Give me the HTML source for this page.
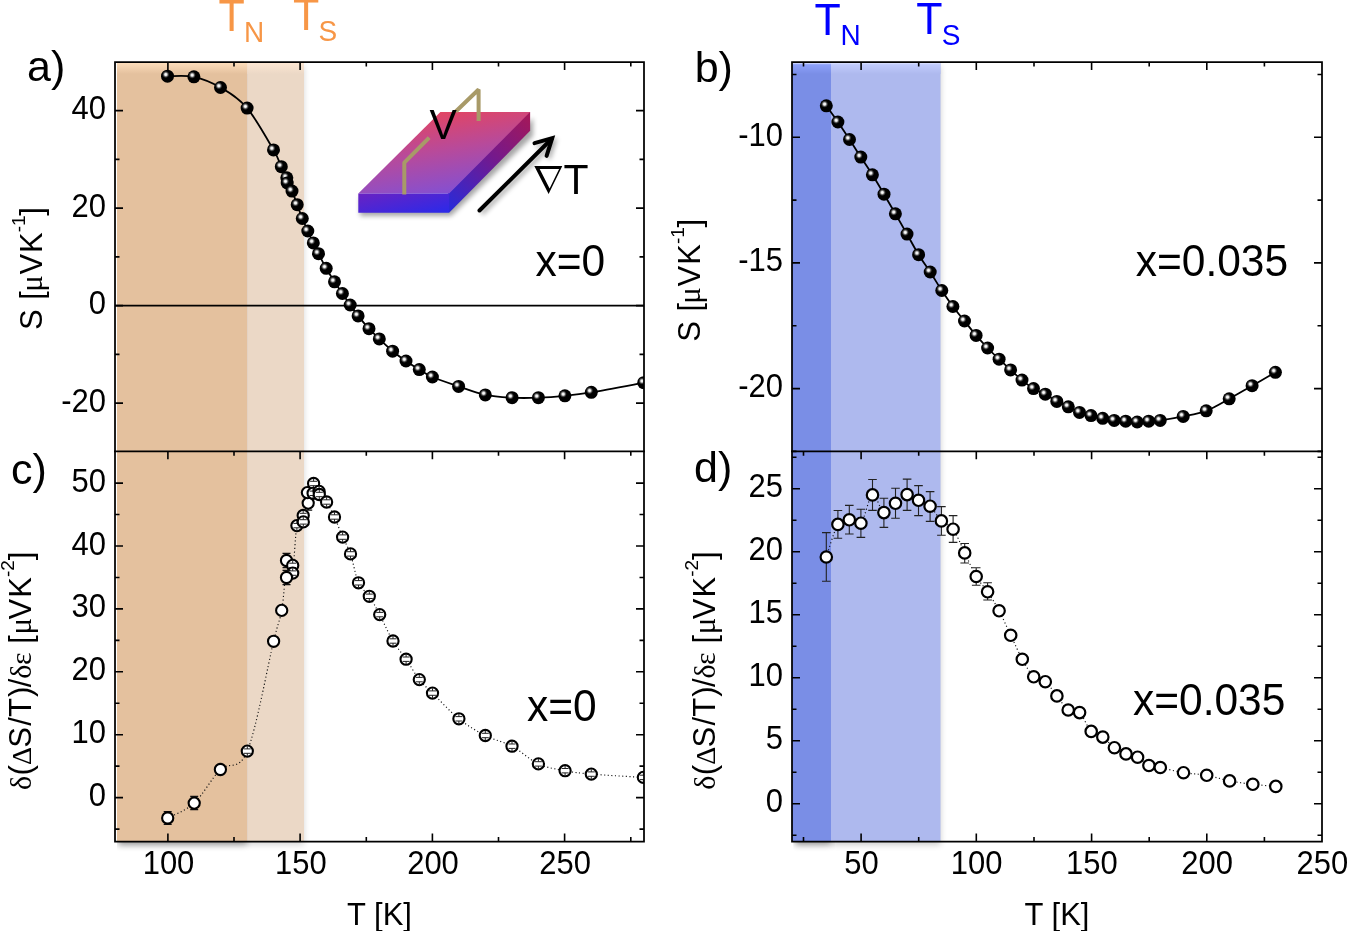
<!DOCTYPE html><html><head><meta charset="utf-8"><style>html,body{margin:0;padding:0;background:#fff;}body{width:1347px;height:931px;overflow:hidden;}svg{display:block;will-change:transform;font-family:"Liberation Sans",sans-serif;}</style></head><body>
<svg width="1347" height="931" viewBox="0 0 1347 931">
<defs>
<radialGradient id="hl" cx="0.5" cy="0.5" r="0.5"><stop offset="0" stop-color="#fff" stop-opacity="1"/><stop offset="0.3" stop-color="#fff" stop-opacity="0.92"/><stop offset="0.7" stop-color="#fff" stop-opacity="0.25"/><stop offset="1" stop-color="#fff" stop-opacity="0"/></radialGradient>
<linearGradient id="tOd" x1="0" y1="0" x2="0" y2="1"><stop offset="0" stop-color="#fcdcba"/><stop offset="1" stop-color="#e4c19e"/></linearGradient>
<linearGradient id="tOl" x1="0" y1="0" x2="0" y2="1"><stop offset="0" stop-color="#fce6d2"/><stop offset="1" stop-color="#ebd8c6"/></linearGradient>
<linearGradient id="tBd" x1="0" y1="0" x2="0" y2="1"><stop offset="0" stop-color="#90a4fe"/><stop offset="1" stop-color="#7a8ee6"/></linearGradient>
<linearGradient id="tBl" x1="0" y1="0" x2="0" y2="1"><stop offset="0" stop-color="#c4cefe"/><stop offset="1" stop-color="#aeb9ee"/></linearGradient>
<filter id="sh" x="-10%" y="-10%" width="120%" height="120%"><feGaussianBlur stdDeviation="3"/></filter>
<linearGradient id="topO" x1="0" y1="0" x2="0" y2="1"><stop offset="0" stop-color="#fff" stop-opacity="0.45"/><stop offset="1" stop-color="#fff" stop-opacity="0"/></linearGradient>
<linearGradient id="topB" x1="0" y1="0" x2="0" y2="1"><stop offset="0" stop-color="#fff" stop-opacity="0.35"/><stop offset="1" stop-color="#fff" stop-opacity="0"/></linearGradient>
<linearGradient id="slabTop" gradientUnits="userSpaceOnUse" x1="435" y1="105" x2="450" y2="195"><stop offset="0" stop-color="#ea4458"/><stop offset="0.5" stop-color="#b84a9a"/><stop offset="1" stop-color="#8250d4"/></linearGradient>
<linearGradient id="slabFront" x1="0" y1="0" x2="1" y2="1"><stop offset="0" stop-color="#6a22c2"/><stop offset="1" stop-color="#2a2aea"/></linearGradient>
<linearGradient id="slabSide" gradientUnits="userSpaceOnUse" x1="528" y1="116" x2="452" y2="208"><stop offset="0" stop-color="#a3185a"/><stop offset="0.45" stop-color="#74198c"/><stop offset="1" stop-color="#2c2ad6"/></linearGradient>
<filter id="blur3" x="-20%" y="-20%" width="140%" height="140%"><feGaussianBlur stdDeviation="2.5"/></filter>
<clipPath id="shO"><rect x="117" y="63" width="600" height="868"/></clipPath><clipPath id="shB"><rect x="793.2" y="63" width="554" height="868"/></clipPath>
<clipPath id="clipA"><rect x="115" y="62" width="529" height="390"/></clipPath>
<clipPath id="clipC"><rect x="115" y="452" width="529" height="389"/></clipPath>
<clipPath id="clipB"><rect x="792" y="62" width="530" height="390"/></clipPath>
<clipPath id="clipD"><rect x="792" y="452" width="530" height="389"/></clipPath>
</defs>
<g clip-path="url(#shO)"><rect x="118" y="66" width="129.2" height="779" fill="#000" opacity="0.42" filter="url(#sh)"/>
<rect x="247.2" y="66" width="56.8" height="779" fill="#000" opacity="0.16" filter="url(#sh)"/></g>
<g clip-path="url(#shB)"><rect x="795" y="66" width="36" height="779" fill="#000" opacity="0.42" filter="url(#sh)"/>
<rect x="831" y="66" width="109.5" height="779" fill="#000" opacity="0.2" filter="url(#sh)"/></g>
<rect x="117" y="62" width="130.2" height="779" fill="#e4c19e"/>
<rect x="247.2" y="62" width="56.8" height="779" fill="#ebd8c6"/>
<rect x="117" y="63" width="130.2" height="11" fill="url(#tOd)"/>
<rect x="247.2" y="63" width="56.8" height="11" fill="url(#tOl)"/>
<rect x="792" y="62" width="39" height="780" fill="#7a8ee6"/>
<rect x="831" y="62" width="109.5" height="780" fill="#aeb9ee"/>
<rect x="792" y="63" width="39" height="11" fill="url(#tBd)"/>
<rect x="831" y="63" width="109.5" height="11" fill="url(#tBl)"/>
<rect x="792" y="63" width="148.5" height="1.2" fill="#dde3fe" opacity="0.7"/>
<line x1="115" y1="305.6" x2="644" y2="305.6" stroke="#000" stroke-width="1.7"/>
<g>
<polygon points="360,197 451,197 533,118 533,136 451,216 360,216" fill="#000" opacity="0.35" filter="url(#blur3)"/>
<polygon points="447.9,193.5 528.9,112.1 530.1,112.1 530.1,130.8 449.1,212.8" fill="url(#slabSide)"/>
<polygon points="440.4,112.1 530.1,112.1 449.1,193.5 358.3,193.5" fill="url(#slabTop)"/>
<polygon points="358.3,193.5 449.1,193.5 449.1,212.8 358.3,212.8" fill="url(#slabFront)"/>
<polyline points="404.3,194.5 404.3,162.6 429.2,137.6" fill="none" stroke="#a89a68" stroke-width="4" stroke-linejoin="bevel"/>
<polyline points="455.8,111.5 478.6,89.5 478.6,121.1" fill="none" stroke="#a89a68" stroke-width="4" stroke-linejoin="bevel"/>
<g opacity="0.35" filter="url(#blur3)" transform="translate(2,3)"><line x1="479.5" y1="210.5" x2="551.5" y2="139" stroke="#000" stroke-width="4"/><polyline points="534.5,143.2 552.2,138.2 546.6,155.9" fill="none" stroke="#000" stroke-width="4"/></g>
<line x1="479.5" y1="210.5" x2="551.5" y2="139" stroke="#000" stroke-width="4" stroke-linecap="round"/>
<polyline points="534.5,143.2 552.2,138.2 546.6,155.9" fill="none" stroke="#000" stroke-width="4" stroke-linecap="round" stroke-linejoin="miter"/>
<path d="M534.3,166.1L562.3,166.1L548.6,194.1ZM539.7,169L549.6,188.4L559.1,169Z" fill="#000" fill-rule="evenodd"/>
<text transform="translate(429.6,138.6) scale(1,1.035)" font-size="41">V</text>
<text transform="translate(563.4,193.8) scale(1,1.035)" font-size="41">T</text>
</g>
<g clip-path="url(#clipA)"><path d="M167.5,76.2 C171.9,76.3 185.1,74.9 193.9,76.8 C202.7,78.7 211.6,82.3 220.5,87.5 C229.4,92.7 238.3,97.7 247.1,108.1 C255.9,118.5 267.8,140.1 273.5,149.9 C279.2,159.7 279.1,162 281.3,166.7 C283.5,171.3 285.8,175.1 286.8,177.8 C287.8,180.5 286.3,180.8 287.2,183 C288.1,185.2 290.3,187.5 292,191.1 C293.7,194.7 295.5,200.1 297.2,204.7 C298.9,209.3 300.5,214.1 302.3,218.5 C304.1,222.9 306,226.9 307.8,231 C309.6,235.1 311.5,239.1 313.3,242.9 C315.1,246.7 316.4,249.5 318.5,253.7 C320.6,257.9 323.5,263.6 326.2,268.3 C328.9,273 331.8,277.6 334.5,281.8 C337.2,286 339.8,289.6 342.4,293.5 C345,297.4 347.6,301.3 350.2,305 C352.8,308.7 355,311.9 358.1,315.9 C361.2,319.8 365.5,324.9 369,328.7 C372.5,332.5 375.4,335.1 379.3,338.9 C383.2,342.6 388.2,347.5 392.6,351.2 C397.1,354.9 401.6,357.9 406,361 C410.4,364.1 414.9,366.9 419.3,369.6 C423.7,372.3 425.8,374.2 432.4,377 C438.9,379.8 449.8,383.4 458.6,386.4 C467.4,389.4 476.4,393 485.3,394.9 C494.2,396.8 503.2,397.2 512.1,397.7 C521,398.2 529.6,398 538.4,397.7 C547.2,397.4 556.1,396.7 564.9,395.8 C573.7,394.9 578.2,394.5 591.3,392.3 C604.4,390.1 635,384.3 643.7,382.7" fill="none" stroke="#000" stroke-width="1.8"/></g>
<g clip-path="url(#clipB)"><path d="M826.3,105.8 C828.2,108.5 834,116.4 837.9,122 C841.8,127.6 845.7,133.7 849.5,139.5 C853.3,145.3 857,151.2 860.8,157.1 C864.6,163 868.5,168.6 872.4,174.8 C876.3,181 880.2,187.7 884,194.2 C887.8,200.7 891.6,207.2 895.4,213.8 C899.2,220.5 903.1,227.3 907,234.1 C910.9,240.9 914.7,248.4 918.6,254.7 C922.5,261 926.3,266 930.2,272 C934.1,278 938,284.8 941.8,290.5 C945.6,296.2 949.1,301.4 952.9,306.5 C956.7,311.6 960.6,316.2 964.5,321 C968.4,325.8 972.2,330.9 976.1,335.4 C980,339.9 983.8,344 987.6,348 C991.4,352 995.3,355.6 999.1,359.2 C1002.9,362.8 1006.8,366.4 1010.6,369.9 C1014.4,373.4 1018.2,377 1022,380.1 C1025.8,383.2 1029.6,386.2 1033.5,388.6 C1037.4,391 1041.4,392.1 1045.3,394.2 C1049.2,396.3 1053,399.3 1056.8,401.4 C1060.6,403.5 1064.5,405 1068.3,406.8 C1072.1,408.6 1075.7,410.9 1079.5,412.4 C1083.3,413.9 1087.1,414.6 1091,415.6 C1094.9,416.6 1098.8,417.5 1102.7,418.3 C1106.6,419.1 1110.4,419.9 1114.2,420.4 C1118,420.9 1121.9,420.9 1125.7,421.2 C1129.5,421.5 1133.4,422 1137.2,422 C1141,422 1144.9,421.5 1148.7,421.2 C1152.5,420.9 1154.5,421.2 1160.2,420.4 C1166,419.6 1175.5,418 1183.2,416.4 C1190.9,414.8 1198.5,413.7 1206.2,410.8 C1213.9,407.9 1221.6,403 1229.2,398.8 C1236.8,394.6 1244.4,390.1 1252.1,385.7 C1259.8,381.3 1271.5,374.5 1275.4,372.3" fill="none" stroke="#000" stroke-width="1.8"/></g>
<g clip-path="url(#clipC)"><path d="M167.7,818 C172.1,815.5 185.4,811.2 194.2,803.1 C203,795 211.6,778.2 220.4,769.5 C229.2,760.8 238.4,772.5 247.3,751.1 C256.2,729.7 267.9,664.8 273.6,641.3 C279.3,617.8 279.6,622.3 281.7,610.4 C283.8,598.5 284.7,576.9 286.5,570 C288.3,563.1 290.9,576.4 292.7,569 C294.4,561.6 295.2,534.1 297,525.6 C298.8,517.1 301.4,522.6 303.2,518 C305,513.4 306.3,503.2 308,498 C309.7,492.8 311.8,488 313.6,487 C315.5,486 316.9,489.5 319.1,492 C321.3,494.5 324,497.8 326.6,502 C329.2,506.2 331.8,511.1 334.5,517 C337.2,522.9 339.9,531 342.6,537.1 C345.3,543.2 347.9,546.3 350.5,553.9 C353.1,561.5 355.4,575.7 358.5,582.8 C361.6,589.9 365.8,591 369.3,596.3 C372.8,601.6 375.8,607.1 379.7,614.6 C383.6,622.1 388.6,633.6 393,641 C397.4,648.4 401.7,652.8 406.1,659.2 C410.5,665.6 414.9,674 419.3,679.6 C423.7,685.2 425.9,686.6 432.5,693.1 C439.1,699.6 450.1,711.7 458.9,718.8 C467.7,725.9 476.4,730.9 485.3,735.5 C494.2,740.1 503.1,741.5 512,746.2 C520.9,750.9 529.5,759.8 538.4,763.9 C547.2,768 556.3,769 565.1,770.7 C573.9,772.4 578.2,773 591.3,774.1 C604.3,775.2 634.7,776.9 643.4,777.4" fill="none" stroke="#111" stroke-width="1.15" stroke-dasharray="1.1 2.5"/></g>
<g clip-path="url(#clipD)"><path d="M826.3,557 C828.2,551.6 834.1,530.6 837.9,524.4 C841.7,518.2 845.5,520 849.3,519.8 C853.1,519.6 857,527.4 860.9,523.2 C864.8,519.1 868.7,496.7 872.5,494.9 C876.3,493.1 880.1,511.2 883.9,512.6 C887.7,514 891.6,506.3 895.5,503.3 C899.4,500.3 903.3,495.1 907.1,494.6 C910.9,494.1 914.7,498.4 918.5,500.3 C922.3,502.2 926.3,502.8 930.1,506.2 C933.9,509.6 937.6,517.1 941.4,520.9 C945.2,524.7 949.2,523.9 953.1,529.2 C957,534.5 960.9,545 964.7,552.9 C968.6,560.8 972.4,570 976.2,576.5 C980,583 983.8,586.1 987.6,591.8 C991.4,597.5 995.2,603.5 999.1,610.8 C1003,618 1006.8,627.2 1010.7,635.3 C1014.6,643.4 1018.5,652.4 1022.3,659.3 C1026.1,666.2 1029.9,673.1 1033.7,676.8 C1037.5,680.5 1041.4,678.5 1045.3,681.7 C1049.2,684.9 1053.1,691.2 1056.9,695.9 C1060.7,700.6 1064.4,707.2 1068.2,710 C1072,712.8 1075.8,709 1079.6,712.6 C1083.4,716.2 1087.3,727.3 1091.2,731.4 C1095.1,735.5 1098.9,734.4 1102.8,737.1 C1106.7,739.8 1110.5,744.9 1114.4,747.7 C1118.3,750.5 1122.1,752.3 1126,753.9 C1129.9,755.5 1133.8,755.3 1137.6,757.2 C1141.4,759.1 1145.1,763.8 1148.9,765.5 C1152.7,767.2 1154.5,766.3 1160.3,767.5 C1166.1,768.7 1175.8,771.4 1183.5,772.7 C1191.2,774 1199,773.9 1206.7,775.3 C1214.4,776.7 1221.9,779.4 1229.6,780.9 C1237.3,782.4 1245.1,783.4 1252.8,784.3 C1260.5,785.2 1272,786 1275.8,786.4" fill="none" stroke="#111" stroke-width="1.15" stroke-dasharray="1.1 2.5"/></g>
<g clip-path="url(#clipA)">
<circle cx="167.5" cy="76.2" r="6.5"/><circle cx="165.8" cy="74.5" r="3.6" fill="url(#hl)"/>
<circle cx="193.9" cy="76.8" r="6.5"/><circle cx="192.2" cy="75.1" r="3.6" fill="url(#hl)"/>
<circle cx="220.5" cy="87.5" r="6.5"/><circle cx="218.8" cy="85.8" r="3.6" fill="url(#hl)"/>
<circle cx="247.1" cy="108.1" r="6.5"/><circle cx="245.4" cy="106.4" r="3.6" fill="url(#hl)"/>
<circle cx="273.5" cy="149.9" r="6.5"/><circle cx="271.8" cy="148.2" r="3.6" fill="url(#hl)"/>
<circle cx="281.3" cy="166.7" r="6.5"/><circle cx="279.6" cy="165" r="3.6" fill="url(#hl)"/>
<circle cx="286.8" cy="177.8" r="6.5"/><circle cx="285.1" cy="176.1" r="3.6" fill="url(#hl)"/>
<circle cx="287.2" cy="183" r="6.5"/><circle cx="285.5" cy="181.3" r="3.6" fill="url(#hl)"/>
<circle cx="292" cy="191.1" r="6.5"/><circle cx="290.3" cy="189.4" r="3.6" fill="url(#hl)"/>
<circle cx="297.2" cy="204.7" r="6.5"/><circle cx="295.5" cy="203" r="3.6" fill="url(#hl)"/>
<circle cx="302.3" cy="218.5" r="6.5"/><circle cx="300.6" cy="216.8" r="3.6" fill="url(#hl)"/>
<circle cx="307.8" cy="231" r="6.5"/><circle cx="306.1" cy="229.3" r="3.6" fill="url(#hl)"/>
<circle cx="313.3" cy="242.9" r="6.5"/><circle cx="311.6" cy="241.2" r="3.6" fill="url(#hl)"/>
<circle cx="318.5" cy="253.7" r="6.5"/><circle cx="316.8" cy="252" r="3.6" fill="url(#hl)"/>
<circle cx="326.2" cy="268.3" r="6.5"/><circle cx="324.5" cy="266.6" r="3.6" fill="url(#hl)"/>
<circle cx="334.5" cy="281.8" r="6.5"/><circle cx="332.8" cy="280.1" r="3.6" fill="url(#hl)"/>
<circle cx="342.4" cy="293.5" r="6.5"/><circle cx="340.7" cy="291.8" r="3.6" fill="url(#hl)"/>
<circle cx="350.2" cy="305" r="6.5"/><circle cx="348.5" cy="303.3" r="3.6" fill="url(#hl)"/>
<circle cx="358.1" cy="315.9" r="6.5"/><circle cx="356.4" cy="314.2" r="3.6" fill="url(#hl)"/>
<circle cx="369" cy="328.7" r="6.5"/><circle cx="367.3" cy="327" r="3.6" fill="url(#hl)"/>
<circle cx="379.3" cy="338.9" r="6.5"/><circle cx="377.6" cy="337.2" r="3.6" fill="url(#hl)"/>
<circle cx="392.6" cy="351.2" r="6.5"/><circle cx="390.9" cy="349.5" r="3.6" fill="url(#hl)"/>
<circle cx="406" cy="361" r="6.5"/><circle cx="404.3" cy="359.3" r="3.6" fill="url(#hl)"/>
<circle cx="419.3" cy="369.6" r="6.5"/><circle cx="417.6" cy="367.9" r="3.6" fill="url(#hl)"/>
<circle cx="432.4" cy="377" r="6.5"/><circle cx="430.7" cy="375.3" r="3.6" fill="url(#hl)"/>
<circle cx="458.6" cy="386.4" r="6.5"/><circle cx="456.9" cy="384.7" r="3.6" fill="url(#hl)"/>
<circle cx="485.3" cy="394.9" r="6.5"/><circle cx="483.6" cy="393.2" r="3.6" fill="url(#hl)"/>
<circle cx="512.1" cy="397.7" r="6.5"/><circle cx="510.4" cy="396" r="3.6" fill="url(#hl)"/>
<circle cx="538.4" cy="397.7" r="6.5"/><circle cx="536.7" cy="396" r="3.6" fill="url(#hl)"/>
<circle cx="564.9" cy="395.8" r="6.5"/><circle cx="563.2" cy="394.1" r="3.6" fill="url(#hl)"/>
<circle cx="591.3" cy="392.3" r="6.5"/><circle cx="589.6" cy="390.6" r="3.6" fill="url(#hl)"/>
<circle cx="643.7" cy="382.7" r="6.5"/><circle cx="642" cy="381" r="3.6" fill="url(#hl)"/>
</g>
<g clip-path="url(#clipB)">
<circle cx="826.3" cy="105.8" r="6.5"/><circle cx="824.6" cy="104.1" r="3.6" fill="url(#hl)"/>
<circle cx="837.9" cy="122" r="6.5"/><circle cx="836.2" cy="120.3" r="3.6" fill="url(#hl)"/>
<circle cx="849.5" cy="139.5" r="6.5"/><circle cx="847.8" cy="137.8" r="3.6" fill="url(#hl)"/>
<circle cx="860.8" cy="157.1" r="6.5"/><circle cx="859.1" cy="155.4" r="3.6" fill="url(#hl)"/>
<circle cx="872.4" cy="174.8" r="6.5"/><circle cx="870.7" cy="173.1" r="3.6" fill="url(#hl)"/>
<circle cx="884" cy="194.2" r="6.5"/><circle cx="882.3" cy="192.5" r="3.6" fill="url(#hl)"/>
<circle cx="895.4" cy="213.8" r="6.5"/><circle cx="893.7" cy="212.1" r="3.6" fill="url(#hl)"/>
<circle cx="907" cy="234.1" r="6.5"/><circle cx="905.3" cy="232.4" r="3.6" fill="url(#hl)"/>
<circle cx="918.6" cy="254.7" r="6.5"/><circle cx="916.9" cy="253" r="3.6" fill="url(#hl)"/>
<circle cx="930.2" cy="272" r="6.5"/><circle cx="928.5" cy="270.3" r="3.6" fill="url(#hl)"/>
<circle cx="941.8" cy="290.5" r="6.5"/><circle cx="940.1" cy="288.8" r="3.6" fill="url(#hl)"/>
<circle cx="952.9" cy="306.5" r="6.5"/><circle cx="951.2" cy="304.8" r="3.6" fill="url(#hl)"/>
<circle cx="964.5" cy="321" r="6.5"/><circle cx="962.8" cy="319.3" r="3.6" fill="url(#hl)"/>
<circle cx="976.1" cy="335.4" r="6.5"/><circle cx="974.4" cy="333.7" r="3.6" fill="url(#hl)"/>
<circle cx="987.6" cy="348" r="6.5"/><circle cx="985.9" cy="346.3" r="3.6" fill="url(#hl)"/>
<circle cx="999.1" cy="359.2" r="6.5"/><circle cx="997.4" cy="357.5" r="3.6" fill="url(#hl)"/>
<circle cx="1010.6" cy="369.9" r="6.5"/><circle cx="1008.9" cy="368.2" r="3.6" fill="url(#hl)"/>
<circle cx="1022" cy="380.1" r="6.5"/><circle cx="1020.3" cy="378.4" r="3.6" fill="url(#hl)"/>
<circle cx="1033.5" cy="388.6" r="6.5"/><circle cx="1031.8" cy="386.9" r="3.6" fill="url(#hl)"/>
<circle cx="1045.3" cy="394.2" r="6.5"/><circle cx="1043.6" cy="392.5" r="3.6" fill="url(#hl)"/>
<circle cx="1056.8" cy="401.4" r="6.5"/><circle cx="1055.1" cy="399.7" r="3.6" fill="url(#hl)"/>
<circle cx="1068.3" cy="406.8" r="6.5"/><circle cx="1066.6" cy="405.1" r="3.6" fill="url(#hl)"/>
<circle cx="1079.5" cy="412.4" r="6.5"/><circle cx="1077.8" cy="410.7" r="3.6" fill="url(#hl)"/>
<circle cx="1091" cy="415.6" r="6.5"/><circle cx="1089.3" cy="413.9" r="3.6" fill="url(#hl)"/>
<circle cx="1102.7" cy="418.3" r="6.5"/><circle cx="1101" cy="416.6" r="3.6" fill="url(#hl)"/>
<circle cx="1114.2" cy="420.4" r="6.5"/><circle cx="1112.5" cy="418.7" r="3.6" fill="url(#hl)"/>
<circle cx="1125.7" cy="421.2" r="6.5"/><circle cx="1124" cy="419.5" r="3.6" fill="url(#hl)"/>
<circle cx="1137.2" cy="422" r="6.5"/><circle cx="1135.5" cy="420.3" r="3.6" fill="url(#hl)"/>
<circle cx="1148.7" cy="421.2" r="6.5"/><circle cx="1147" cy="419.5" r="3.6" fill="url(#hl)"/>
<circle cx="1160.2" cy="420.4" r="6.5"/><circle cx="1158.5" cy="418.7" r="3.6" fill="url(#hl)"/>
<circle cx="1183.2" cy="416.4" r="6.5"/><circle cx="1181.5" cy="414.7" r="3.6" fill="url(#hl)"/>
<circle cx="1206.2" cy="410.8" r="6.5"/><circle cx="1204.5" cy="409.1" r="3.6" fill="url(#hl)"/>
<circle cx="1229.2" cy="398.8" r="6.5"/><circle cx="1227.5" cy="397.1" r="3.6" fill="url(#hl)"/>
<circle cx="1252.1" cy="385.7" r="6.5"/><circle cx="1250.4" cy="384" r="3.6" fill="url(#hl)"/>
<circle cx="1275.4" cy="372.3" r="6.5"/><circle cx="1273.7" cy="370.6" r="3.6" fill="url(#hl)"/>
</g>
<g clip-path="url(#clipC)">
<path d="M167.7,811.7V824.3M163.7,811.7h8M163.7,824.3h8" stroke="#111" stroke-width="1.3" fill="none"/>
<circle cx="167.7" cy="818" r="5.6" fill="#fff" stroke="#000" stroke-width="2.1"/>
<path d="M194.2,796.5V809.7M190.2,796.5h8M190.2,809.7h8" stroke="#111" stroke-width="1.3" fill="none"/>
<circle cx="194.2" cy="803.1" r="5.6" fill="#fff" stroke="#000" stroke-width="2.1"/>
<circle cx="220.4" cy="769.5" r="5.6" fill="#fff" stroke="#000" stroke-width="2.1"/>
<circle cx="247.3" cy="751.1" r="5.6" fill="#fff" stroke="#000" stroke-width="2.1"/>
<path d="M243.8,748.9h7M243.8,753.3h7M247.3,748.9v-2.6M247.3,753.3v2.6" stroke="#222" stroke-width="1"/>
<circle cx="273.6" cy="641.3" r="5.6" fill="#fff" stroke="#000" stroke-width="2.1"/>
<circle cx="281.7" cy="610.4" r="5.6" fill="#fff" stroke="#000" stroke-width="2.1"/>
<path d="M286.5,553.3V567.7M282.5,553.3h8M282.5,567.7h8" stroke="#111" stroke-width="1.3" fill="none"/>
<circle cx="286.5" cy="560.5" r="5.6" fill="#fff" stroke="#000" stroke-width="2.1"/>
<circle cx="292.7" cy="565.4" r="5.6" fill="#fff" stroke="#000" stroke-width="2.1"/>
<path d="M289.2,563.2h7M289.2,567.6h7M292.7,563.2v-2.6M292.7,567.6v2.6" stroke="#222" stroke-width="1"/>
<circle cx="292.7" cy="573.1" r="5.6" fill="#fff" stroke="#000" stroke-width="2.1"/>
<path d="M289.2,570.9h7M289.2,575.3h7M292.7,570.9v-2.6M292.7,575.3v2.6" stroke="#222" stroke-width="1"/>
<path d="M286.5,570.3V584.7M282.5,570.3h8M282.5,584.7h8" stroke="#111" stroke-width="1.3" fill="none"/>
<circle cx="286.5" cy="577.5" r="5.6" fill="#fff" stroke="#000" stroke-width="2.1"/>
<circle cx="296.9" cy="525.6" r="5.6" fill="#fff" stroke="#000" stroke-width="2.1"/>
<path d="M293.4,523.4h7M293.4,527.8h7M296.9,523.4v-2.6M296.9,527.8v2.6" stroke="#222" stroke-width="1"/>
<circle cx="303.2" cy="515.5" r="5.6" fill="#fff" stroke="#000" stroke-width="2.1"/>
<path d="M299.7,513.3h7M299.7,517.7h7M303.2,513.3v-2.6M303.2,517.7v2.6" stroke="#222" stroke-width="1"/>
<circle cx="303.3" cy="521.9" r="5.6" fill="#fff" stroke="#000" stroke-width="2.1"/>
<path d="M299.8,519.7h7M299.8,524.1h7M303.3,519.7v-2.6M303.3,524.1v2.6" stroke="#222" stroke-width="1"/>
<path d="M308.2,496.1V510.1M304.2,496.1h8M304.2,510.1h8" stroke="#111" stroke-width="1.3" fill="none"/>
<circle cx="308.2" cy="503.1" r="5.6" fill="#fff" stroke="#000" stroke-width="2.1"/>
<circle cx="307.4" cy="492.6" r="5.6" fill="#fff" stroke="#000" stroke-width="2.1"/>
<circle cx="313.6" cy="483.5" r="5.6" fill="#fff" stroke="#000" stroke-width="2.1"/>
<path d="M310.1,481.3h7M310.1,485.7h7M313.6,481.3v-2.6M313.6,485.7v2.6" stroke="#222" stroke-width="1"/>
<circle cx="313.1" cy="493.3" r="5.6" fill="#fff" stroke="#000" stroke-width="2.1"/>
<path d="M309.6,491.1h7M309.6,495.5h7M313.1,491.1v-2.6M313.1,495.5v2.6" stroke="#222" stroke-width="1"/>
<circle cx="319.1" cy="491.4" r="5.6" fill="#fff" stroke="#000" stroke-width="2.1"/>
<path d="M315.6,489.2h7M315.6,493.6h7M319.1,489.2v-2.6M319.1,493.6v2.6" stroke="#222" stroke-width="1"/>
<circle cx="319.3" cy="494.5" r="5.6" fill="#fff" stroke="#000" stroke-width="2.1"/>
<path d="M315.8,492.3h7M315.8,496.7h7M319.3,492.3v-2.6M319.3,496.7v2.6" stroke="#222" stroke-width="1"/>
<circle cx="326.6" cy="502" r="5.6" fill="#fff" stroke="#000" stroke-width="2.1"/>
<path d="M323.1,499.8h7M323.1,504.2h7M326.6,499.8v-2.6M326.6,504.2v2.6" stroke="#222" stroke-width="1"/>
<circle cx="334.5" cy="517" r="5.6" fill="#fff" stroke="#000" stroke-width="2.1"/>
<path d="M331,514.8h7M331,519.2h7M334.5,514.8v-2.6M334.5,519.2v2.6" stroke="#222" stroke-width="1"/>
<circle cx="342.6" cy="537.1" r="5.6" fill="#fff" stroke="#000" stroke-width="2.1"/>
<path d="M339.1,534.9h7M339.1,539.3h7M342.6,534.9v-2.6M342.6,539.3v2.6" stroke="#222" stroke-width="1"/>
<circle cx="350.5" cy="553.9" r="5.6" fill="#fff" stroke="#000" stroke-width="2.1"/>
<path d="M347,551.7h7M347,556.1h7M350.5,551.7v-2.6M350.5,556.1v2.6" stroke="#222" stroke-width="1"/>
<circle cx="358.5" cy="582.8" r="5.6" fill="#fff" stroke="#000" stroke-width="2.1"/>
<path d="M355,580.6h7M355,585h7M358.5,580.6v-2.6M358.5,585v2.6" stroke="#222" stroke-width="1"/>
<circle cx="369.3" cy="596.3" r="5.6" fill="#fff" stroke="#000" stroke-width="2.1"/>
<path d="M365.8,594.1h7M365.8,598.5h7M369.3,594.1v-2.6M369.3,598.5v2.6" stroke="#222" stroke-width="1"/>
<circle cx="379.7" cy="614.6" r="5.6" fill="#fff" stroke="#000" stroke-width="2.1"/>
<path d="M376.2,612.4h7M376.2,616.8h7M379.7,612.4v-2.6M379.7,616.8v2.6" stroke="#222" stroke-width="1"/>
<circle cx="393" cy="641" r="5.6" fill="#fff" stroke="#000" stroke-width="2.1"/>
<path d="M389.5,638.8h7M389.5,643.2h7M393,638.8v-2.6M393,643.2v2.6" stroke="#222" stroke-width="1"/>
<circle cx="406.1" cy="659.2" r="5.6" fill="#fff" stroke="#000" stroke-width="2.1"/>
<path d="M402.6,657h7M402.6,661.4h7M406.1,657v-2.6M406.1,661.4v2.6" stroke="#222" stroke-width="1"/>
<circle cx="419.3" cy="679.6" r="5.6" fill="#fff" stroke="#000" stroke-width="2.1"/>
<path d="M415.8,677.4h7M415.8,681.8h7M419.3,677.4v-2.6M419.3,681.8v2.6" stroke="#222" stroke-width="1"/>
<circle cx="432.5" cy="693.1" r="5.6" fill="#fff" stroke="#000" stroke-width="2.1"/>
<path d="M429,690.9h7M429,695.3h7M432.5,690.9v-2.6M432.5,695.3v2.6" stroke="#222" stroke-width="1"/>
<circle cx="458.9" cy="718.8" r="5.6" fill="#fff" stroke="#000" stroke-width="2.1"/>
<path d="M455.4,716.6h7M455.4,721h7M458.9,716.6v-2.6M458.9,721v2.6" stroke="#222" stroke-width="1"/>
<circle cx="485.3" cy="735.5" r="5.6" fill="#fff" stroke="#000" stroke-width="2.1"/>
<path d="M481.8,733.3h7M481.8,737.7h7M485.3,733.3v-2.6M485.3,737.7v2.6" stroke="#222" stroke-width="1"/>
<circle cx="512" cy="746.2" r="5.6" fill="#fff" stroke="#000" stroke-width="2.1"/>
<path d="M508.5,744h7M508.5,748.4h7M512,744v-2.6M512,748.4v2.6" stroke="#222" stroke-width="1"/>
<circle cx="538.4" cy="763.9" r="5.6" fill="#fff" stroke="#000" stroke-width="2.1"/>
<path d="M534.9,761.7h7M534.9,766.1h7M538.4,761.7v-2.6M538.4,766.1v2.6" stroke="#222" stroke-width="1"/>
<circle cx="565.1" cy="770.7" r="5.6" fill="#fff" stroke="#000" stroke-width="2.1"/>
<path d="M561.6,768.5h7M561.6,772.9h7M565.1,768.5v-2.6M565.1,772.9v2.6" stroke="#222" stroke-width="1"/>
<circle cx="591.3" cy="774.1" r="5.6" fill="#fff" stroke="#000" stroke-width="2.1"/>
<path d="M587.8,771.9h7M587.8,776.3h7M591.3,771.9v-2.6M591.3,776.3v2.6" stroke="#222" stroke-width="1"/>
<circle cx="643.4" cy="777.4" r="5.6" fill="#fff" stroke="#000" stroke-width="2.1"/>
<path d="M639.9,775.2h7M639.9,779.6h7M643.4,775.2v-2.6M643.4,779.6v2.6" stroke="#222" stroke-width="1"/>
</g>
<g clip-path="url(#clipD)">
<path d="M826.3,532.6V581.2M822,532.6h8.6M822,581.2h8.6" stroke="#222" stroke-width="1.1" fill="none"/>
<circle cx="826.3" cy="557" r="5.7" fill="#fff" stroke="#000" stroke-width="2.2"/>
<path d="M837.9,510.5V538.2M833.6,510.5h8.6M833.6,538.2h8.6" stroke="#222" stroke-width="1.1" fill="none"/>
<circle cx="837.9" cy="524.4" r="5.7" fill="#fff" stroke="#000" stroke-width="2.2"/>
<path d="M849.3,505.4V534M845,505.4h8.6M845,534h8.6" stroke="#222" stroke-width="1.1" fill="none"/>
<circle cx="849.3" cy="519.8" r="5.7" fill="#fff" stroke="#000" stroke-width="2.2"/>
<path d="M860.9,509.3V537.4M856.6,509.3h8.6M856.6,537.4h8.6" stroke="#222" stroke-width="1.1" fill="none"/>
<circle cx="860.9" cy="523.2" r="5.7" fill="#fff" stroke="#000" stroke-width="2.2"/>
<path d="M872.5,479.5V510.4M868.2,479.5h8.6M868.2,510.4h8.6" stroke="#222" stroke-width="1.1" fill="none"/>
<circle cx="872.5" cy="494.9" r="5.7" fill="#fff" stroke="#000" stroke-width="2.2"/>
<path d="M883.9,498.2V527.4M879.6,498.2h8.6M879.6,527.4h8.6" stroke="#222" stroke-width="1.1" fill="none"/>
<circle cx="883.9" cy="512.6" r="5.7" fill="#fff" stroke="#000" stroke-width="2.2"/>
<path d="M895.5,488.3V518.3M891.2,488.3h8.6M891.2,518.3h8.6" stroke="#222" stroke-width="1.1" fill="none"/>
<circle cx="895.5" cy="503.3" r="5.7" fill="#fff" stroke="#000" stroke-width="2.2"/>
<path d="M907.1,479.1V510.4M902.8,479.1h8.6M902.8,510.4h8.6" stroke="#222" stroke-width="1.1" fill="none"/>
<circle cx="907.1" cy="494.6" r="5.7" fill="#fff" stroke="#000" stroke-width="2.2"/>
<path d="M918.5,485.6V515.6M914.2,485.6h8.6M914.2,515.6h8.6" stroke="#222" stroke-width="1.1" fill="none"/>
<circle cx="918.5" cy="500.3" r="5.7" fill="#fff" stroke="#000" stroke-width="2.2"/>
<path d="M930.1,491.6V521.4M925.8,491.6h8.6M925.8,521.4h8.6" stroke="#222" stroke-width="1.1" fill="none"/>
<circle cx="930.1" cy="506.2" r="5.7" fill="#fff" stroke="#000" stroke-width="2.2"/>
<path d="M941.4,506.6V535.2M937.1,506.6h8.6M937.1,535.2h8.6" stroke="#222" stroke-width="1.1" fill="none"/>
<circle cx="941.4" cy="520.9" r="5.7" fill="#fff" stroke="#000" stroke-width="2.2"/>
<path d="M953.1,515.6V542.4M948.8,515.6h8.6M948.8,542.4h8.6" stroke="#222" stroke-width="1.1" fill="none"/>
<circle cx="953.1" cy="529.2" r="5.7" fill="#fff" stroke="#000" stroke-width="2.2"/>
<path d="M964.7,543.5V563M960.4,543.5h8.6M960.4,563h8.6" stroke="#222" stroke-width="1.1" fill="none"/>
<circle cx="964.7" cy="552.9" r="5.7" fill="#fff" stroke="#000" stroke-width="2.2"/>
<path d="M976.2,567.8V585.3M971.9,567.8h8.6M971.9,585.3h8.6" stroke="#222" stroke-width="1.1" fill="none"/>
<circle cx="976.2" cy="576.5" r="5.7" fill="#fff" stroke="#000" stroke-width="2.2"/>
<path d="M987.6,582.7V600M983.3,582.7h8.6M983.3,600h8.6" stroke="#222" stroke-width="1.1" fill="none"/>
<circle cx="987.6" cy="591.8" r="5.7" fill="#fff" stroke="#000" stroke-width="2.2"/>
<circle cx="999.1" cy="610.8" r="5.7" fill="#fff" stroke="#000" stroke-width="2.2"/>
<circle cx="1010.7" cy="635.3" r="5.7" fill="#fff" stroke="#000" stroke-width="2.2"/>
<circle cx="1022.3" cy="659.3" r="5.7" fill="#fff" stroke="#000" stroke-width="2.2"/>
<circle cx="1033.7" cy="676.8" r="5.7" fill="#fff" stroke="#000" stroke-width="2.2"/>
<circle cx="1045.3" cy="681.7" r="5.7" fill="#fff" stroke="#000" stroke-width="2.2"/>
<circle cx="1056.9" cy="695.9" r="5.7" fill="#fff" stroke="#000" stroke-width="2.2"/>
<circle cx="1068.2" cy="710" r="5.7" fill="#fff" stroke="#000" stroke-width="2.2"/>
<circle cx="1079.6" cy="712.6" r="5.7" fill="#fff" stroke="#000" stroke-width="2.2"/>
<circle cx="1091.2" cy="731.4" r="5.7" fill="#fff" stroke="#000" stroke-width="2.2"/>
<circle cx="1102.8" cy="737.1" r="5.7" fill="#fff" stroke="#000" stroke-width="2.2"/>
<circle cx="1114.4" cy="747.7" r="5.7" fill="#fff" stroke="#000" stroke-width="2.2"/>
<circle cx="1126" cy="753.9" r="5.7" fill="#fff" stroke="#000" stroke-width="2.2"/>
<circle cx="1137.6" cy="757.2" r="5.7" fill="#fff" stroke="#000" stroke-width="2.2"/>
<circle cx="1148.9" cy="765.5" r="5.7" fill="#fff" stroke="#000" stroke-width="2.2"/>
<circle cx="1160.3" cy="767.5" r="5.7" fill="#fff" stroke="#000" stroke-width="2.2"/>
<circle cx="1183.5" cy="772.7" r="5.7" fill="#fff" stroke="#000" stroke-width="2.2"/>
<circle cx="1206.7" cy="775.3" r="5.7" fill="#fff" stroke="#000" stroke-width="2.2"/>
<circle cx="1229.6" cy="780.9" r="5.7" fill="#fff" stroke="#000" stroke-width="2.2"/>
<circle cx="1252.8" cy="784.3" r="5.7" fill="#fff" stroke="#000" stroke-width="2.2"/>
<circle cx="1275.8" cy="786.4" r="5.7" fill="#fff" stroke="#000" stroke-width="2.2"/>
</g>
<path d="M115,451.3V62H644V451.3" fill="none" stroke="#000" stroke-width="1.75" stroke-linejoin="miter"/>
<path d="M167.9,62v8M300.1,62v8M432.4,62v8M564.6,62v8M234,62v4.5M366.3,62v4.5M498.5,62v4.5M630.8,62v4.5" stroke="#000" stroke-width="1.6"/>
<path d="M115,110.6h8M644,110.6h-8M115,208.1h8M644,208.1h-8M115,305.6h8M644,305.6h-8M115,403.1h8M644,403.1h-8M115,159.4h4.5M644,159.4h-4.5M115,256.9h4.5M644,256.9h-4.5M115,354.4h4.5M644,354.4h-4.5" stroke="#000" stroke-width="1.6"/>
<path d="M115,451.3V841.6H644V451.3" fill="none" stroke="#000" stroke-width="1.75" stroke-linejoin="miter"/>
<path d="M167.9,451.3v8M167.9,841.6v-8M300.1,451.3v8M300.1,841.6v-8M432.4,451.3v8M432.4,841.6v-8M564.6,451.3v8M564.6,841.6v-8M234,451.3v4.5M234,841.6v-4.5M366.3,451.3v4.5M366.3,841.6v-4.5M498.5,451.3v4.5M498.5,841.6v-4.5M630.8,451.3v4.5M630.8,841.6v-4.5" stroke="#000" stroke-width="1.6"/>
<line x1="114" y1="451.3" x2="645" y2="451.3" stroke="#000" stroke-width="1.7"/>
<path d="M115,483.1h8M644,483.1h-8M115,546h8M644,546h-8M115,608.9h8M644,608.9h-8M115,671.8h8M644,671.8h-8M115,734.7h8M644,734.7h-8M115,797.6h8M644,797.6h-8M115,514.5h4.5M644,514.5h-4.5M115,577.5h4.5M644,577.5h-4.5M115,640.4h4.5M644,640.4h-4.5M115,703.2h4.5M644,703.2h-4.5M115,766.1h4.5M644,766.1h-4.5M115,829.1h4.5M644,829.1h-4.5" stroke="#000" stroke-width="1.6"/>
<path d="M792,451.3V62H1322V451.3" fill="none" stroke="#000" stroke-width="1.75" stroke-linejoin="miter"/>
<path d="M861.1,62v8M976.3,62v8M1091.6,62v8M1206.8,62v8M803.5,62v4.5M918.7,62v4.5M1034,62v4.5M1149.2,62v4.5M1264.4,62v4.5" stroke="#000" stroke-width="1.6"/>
<path d="M792,137.3h8M1322,137.3h-8M792,262.9h8M1322,262.9h-8M792,388.6h8M1322,388.6h-8M792,74.5h4.5M1322,74.5h-4.5M792,200.1h4.5M1322,200.1h-4.5M792,325.8h4.5M1322,325.8h-4.5M792,451.4h4.5M1322,451.4h-4.5" stroke="#000" stroke-width="1.6"/>
<path d="M792,451.3V841.6H1322V451.3" fill="none" stroke="#000" stroke-width="1.75" stroke-linejoin="miter"/>
<path d="M861.1,451.3v8M861.1,841.6v-8M976.3,451.3v8M976.3,841.6v-8M1091.6,451.3v8M1091.6,841.6v-8M1206.8,451.3v8M1206.8,841.6v-8M803.5,451.3v4.5M803.5,841.6v-4.5M918.7,451.3v4.5M918.7,841.6v-4.5M1034,451.3v4.5M1034,841.6v-4.5M1149.2,451.3v4.5M1149.2,841.6v-4.5M1264.4,451.3v4.5M1264.4,841.6v-4.5" stroke="#000" stroke-width="1.6"/>
<line x1="791" y1="451.3" x2="1323" y2="451.3" stroke="#000" stroke-width="1.7"/>
<path d="M792,488.8h8M1322,488.8h-8M792,551.8h8M1322,551.8h-8M792,614.8h8M1322,614.8h-8M792,677.8h8M1322,677.8h-8M792,740.8h8M1322,740.8h-8M792,803.8h8M1322,803.8h-8M792,457.3h4.5M1322,457.3h-4.5M792,520.3h4.5M1322,520.3h-4.5M792,583.3h4.5M1322,583.3h-4.5M792,646.3h4.5M1322,646.3h-4.5M792,709.3h4.5M1322,709.3h-4.5M792,772.3h4.5M1322,772.3h-4.5M792,835.3h4.5M1322,835.3h-4.5" stroke="#000" stroke-width="1.6"/>
<text transform="translate(106,119.1) scale(1,1.055)" font-size="31" text-anchor="end">40</text>
<text transform="translate(106,216.6) scale(1,1.055)" font-size="31" text-anchor="end">20</text>
<text transform="translate(106,314.1) scale(1,1.055)" font-size="31" text-anchor="end">0</text>
<text transform="translate(106,411.6) scale(1,1.055)" font-size="31" text-anchor="end">-20</text>
<text transform="translate(106,491.6) scale(1,1.055)" font-size="31" text-anchor="end">50</text>
<text transform="translate(106,554.5) scale(1,1.055)" font-size="31" text-anchor="end">40</text>
<text transform="translate(106,617.4) scale(1,1.055)" font-size="31" text-anchor="end">30</text>
<text transform="translate(106,680.3) scale(1,1.055)" font-size="31" text-anchor="end">20</text>
<text transform="translate(106,743.2) scale(1,1.055)" font-size="31" text-anchor="end">10</text>
<text transform="translate(106,806.1) scale(1,1.055)" font-size="31" text-anchor="end">0</text>
<text transform="translate(783,145.8) scale(1,1.055)" font-size="31" text-anchor="end">-10</text>
<text transform="translate(783,271.4) scale(1,1.055)" font-size="31" text-anchor="end">-15</text>
<text transform="translate(783,397.1) scale(1,1.055)" font-size="31" text-anchor="end">-20</text>
<text transform="translate(783,497.3) scale(1,1.055)" font-size="31" text-anchor="end">25</text>
<text transform="translate(783,560.3) scale(1,1.055)" font-size="31" text-anchor="end">20</text>
<text transform="translate(783,623.3) scale(1,1.055)" font-size="31" text-anchor="end">15</text>
<text transform="translate(783,686.3) scale(1,1.055)" font-size="31" text-anchor="end">10</text>
<text transform="translate(783,749.3) scale(1,1.055)" font-size="31" text-anchor="end">5</text>
<text transform="translate(783,812.3) scale(1,1.055)" font-size="31" text-anchor="end">0</text>
<text transform="translate(168.5,874.3) scale(1,1.055)" font-size="31" text-anchor="middle">100</text>
<text transform="translate(300.8,874.3) scale(1,1.055)" font-size="31" text-anchor="middle">150</text>
<text transform="translate(433,874.3) scale(1,1.055)" font-size="31" text-anchor="middle">200</text>
<text transform="translate(565.2,874.3) scale(1,1.055)" font-size="31" text-anchor="middle">250</text>
<text transform="translate(861.4,874.3) scale(1,1.055)" font-size="31" text-anchor="middle">50</text>
<text transform="translate(976.6,874.3) scale(1,1.055)" font-size="31" text-anchor="middle">100</text>
<text transform="translate(1091.9,874.3) scale(1,1.055)" font-size="31" text-anchor="middle">150</text>
<text transform="translate(1207.1,874.3) scale(1,1.055)" font-size="31" text-anchor="middle">200</text>
<text transform="translate(1322.3,874.3) scale(1,1.055)" font-size="31" text-anchor="middle">250</text>
<text transform="translate(379.5,925) scale(1,1.035)" font-size="31" text-anchor="middle">T [K]</text>
<text transform="translate(1057,925) scale(1,1.035)" font-size="31" text-anchor="middle">T [K]</text>
<text x="27" y="80.5" font-size="43">a)</text>
<text x="11" y="484" font-size="43">c)</text>
<text x="694.7" y="82" font-size="43">b)</text>
<text x="694.1" y="481.6" font-size="43">d)</text>
<text transform="translate(535.4,275.5) scale(1,1.055)" font-size="42.5">x=0</text>
<text transform="translate(527,720.5) scale(1,1.055)" font-size="42.5">x=0</text>
<text transform="translate(1135.7,275.6) scale(1,1.055)" font-size="42.5">x=0.035</text>
<text transform="translate(1133,715.3) scale(1,1.055)" font-size="42.5">x=0.035</text>
<text transform="translate(41.8,268.6) rotate(-90)" font-size="31" text-anchor="middle">S <tspan dx="1.1">[</tspan><tspan font-family="Liberation Serif" font-size="31" dx="-0.8">&#956;</tspan><tspan dx="0.6">V</tspan><tspan dx="1">K</tspan><tspan font-size="19" dy="-16.8">-1</tspan><tspan dy="16.8" dx="-0.4">]</tspan></text>
<text transform="translate(700.3,280.4) rotate(-90)" font-size="31" text-anchor="middle">S <tspan dx="1.1">[</tspan><tspan font-family="Liberation Serif" font-size="31" dx="-0.8">&#956;</tspan><tspan dx="0.6">V</tspan><tspan dx="1">K</tspan><tspan font-size="19" dy="-16.8">-1</tspan><tspan dy="16.8" dx="-0.4">]</tspan></text>
<text transform="translate(31,670.8) rotate(-90)" font-size="31" text-anchor="middle"><tspan font-family="Liberation Serif" font-size="30">&#948;</tspan><tspan dx="0.35">(</tspan><tspan font-family="Liberation Serif" font-size="28" dx="0.25">&#916;</tspan><tspan dx="-0.85">S</tspan><tspan dx="1.4">/</tspan>T<tspan dx="1.1">)</tspan><tspan dx="-0.65">/</tspan><tspan font-family="Liberation Serif" font-size="30">&#948;</tspan><tspan font-family="Liberation Serif" font-size="30" dx="-0.55">&#949;</tspan> <tspan dx="0.1">[</tspan><tspan font-family="Liberation Serif" font-size="31" dx="0.6">&#956;</tspan><tspan dx="-1.45">V</tspan><tspan dx="1">K</tspan><tspan font-size="19" dy="-16.8">-2</tspan><tspan dy="16.8" dx="-0.15">]</tspan></text>
<text transform="translate(714.8,670.6) rotate(-90)" font-size="31" text-anchor="middle"><tspan font-family="Liberation Serif" font-size="30">&#948;</tspan><tspan dx="0.35">(</tspan><tspan font-family="Liberation Serif" font-size="28" dx="0.25">&#916;</tspan><tspan dx="-0.85">S</tspan><tspan dx="1.4">/</tspan>T<tspan dx="1.1">)</tspan><tspan dx="-0.65">/</tspan><tspan font-family="Liberation Serif" font-size="30">&#948;</tspan><tspan font-family="Liberation Serif" font-size="30" dx="-0.55">&#949;</tspan> <tspan dx="0.1">[</tspan><tspan font-family="Liberation Serif" font-size="31" dx="0.6">&#956;</tspan><tspan dx="-1.45">V</tspan><tspan dx="1">K</tspan><tspan font-size="19" dy="-16.8">-2</tspan><tspan dy="16.8" dx="-0.15">]</tspan></text>
<text transform="translate(218.6,30.9) scale(1,1.035)" font-size="43" fill="#f79646">T</text>
<text transform="translate(244,41.6) scale(1,1.035)" font-size="28" fill="#f79646">N</text>
<text transform="translate(293.1,29.9) scale(1,1.035)" font-size="43" fill="#f79646">T</text>
<text transform="translate(318.5,40.7) scale(1,1.035)" font-size="28" fill="#f79646">S</text>
<text transform="translate(814.4,34.7) scale(1,1.035)" font-size="43" fill="#0000ff">T</text>
<text transform="translate(840.5,45.2) scale(1,1.035)" font-size="28" fill="#0000ff">N</text>
<text transform="translate(916.3,34.1) scale(1,1.035)" font-size="43" fill="#0000ff">T</text>
<text transform="translate(941.8,44.5) scale(1,1.035)" font-size="28" fill="#0000ff">S</text>
</svg></body></html>
